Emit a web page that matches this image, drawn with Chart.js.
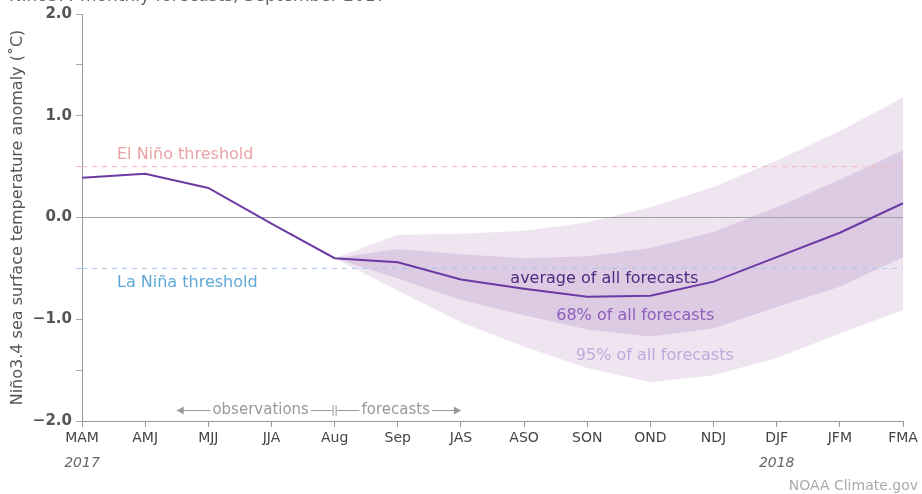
<!DOCTYPE html>
<html>
<head>
<meta charset="utf-8">
<title>Niño3.4 monthly forecasts</title>
<script src="https://cdn.jsdelivr.net/npm/chart.js@4/dist/chart.umd.min.js"></script>
<style>
  html, body { margin: 0; padding: 0; background: #fff; }
  #wrap { width: 922px; height: 494px; position: relative; }
</style>
</head>
<body>
<div id="wrap"><canvas id="enso-chart" width="922" height="494"></canvas></div>
<script>
'use strict';

// Season labels along the bottom
let seasons = ['MAM', 'AMJ', 'MJJ', 'JJA', 'Aug', 'Sep', 'JAS', 'ASO', 'SON', 'OND', 'NDJ', 'DJF', 'JFM', 'FMA'];

// Observed values up to Aug, then the mean of all forecasts
let averageAnomaly = [0.39, 0.43, 0.29, -0.06, -0.40, -0.44, -0.61, -0.70, -0.78, -0.77, -0.63, -0.39, -0.15, 0.14];

// Spread of the forecasts (starts at Aug)
let upper68 = [null, null, null, null, -0.40, -0.31, -0.36, -0.40, -0.38, -0.30, -0.14, 0.10, 0.37, 0.66];
let lower68 = [null, null, null, null, -0.40, -0.60, -0.81, -0.96, -1.10, -1.17, -1.09, -0.88, -0.68, -0.39];
let upper95 = [null, null, null, null, -0.40, -0.17, -0.16, -0.13, -0.05, 0.10, 0.30, 0.56, 0.85, 1.18];
let lower95 = [null, null, null, null, -0.40, -0.72, -1.03, -1.27, -1.48, -1.62, -1.55, -1.38, -1.14, -0.91];

// Thresholds and y axis
let elNinoThreshold = 0.5;
let laNinaThreshold = -0.5;
let yMin = -2;
let yMax = 2;

// Year marks under the season labels
let yearLabels = [{ index: 0, text: '2017' }, { index: 11, text: '2018' }];

const FONT = '"DejaVu Sans", sans-serif';
const LINE_PURPLE = '#6b3aa3';

function flat(value) {
  return seasons.map(function () { return value; });
}

// Text, arrows and year marks drawn on top of the chart
const notesPlugin = {
  id: 'notes',
  afterDraw(chart) {
    const ctx = chart.ctx;
    const x = chart.scales.x;
    const y = chart.scales.y;
    const xAt = function (i) {
      return x.left + (x.right - x.left) * i / (seasons.length - 1);
    };
    ctx.save();

    // chart title, mostly cut off at the top
    ctx.font = '17px ' + FONT;
    ctx.fillStyle = '#666';
    ctx.textAlign = 'left';
    ctx.textBaseline = 'alphabetic';
    ctx.fillText('Niño3.4 monthly forecasts, September 2017', 9, 1);

    // threshold labels
    ctx.font = '16px ' + FONT;
    ctx.fillStyle = '#e9a2a4';
    ctx.textBaseline = 'middle';
    ctx.fillText('El Niño threshold', 117, y.getPixelForValue(elNinoThreshold) - 12);
    ctx.fillStyle = '#5ea8d8';
    ctx.fillText('La Niña threshold', 117, y.getPixelForValue(laNinaThreshold) + 14);

    // band labels
    ctx.textAlign = 'center';
    ctx.fillStyle = '#4e2a80';
    ctx.fillText('average of all forecasts', xAt(8.27), y.getPixelForValue(-0.6));
    ctx.fillStyle = '#8e5fbb';
    ctx.fillText('68% of all forecasts', xAt(8.76), y.getPixelForValue(-0.97));
    ctx.fillStyle = '#c2a9dc';
    ctx.fillText('95% of all forecasts', xAt(9.07), y.getPixelForValue(-1.36));

    // year marks
    ctx.font = 'italic 14px ' + FONT;
    ctx.fillStyle = '#666';
    yearLabels.forEach(function (yl) {
      ctx.fillText(yl.text, xAt(yl.index), 463);
    });

    // observations | forecasts arrow
    const ay = y.bottom - 11;
    const split = xAt(4);
    const left = xAt(1.5);
    const right = xAt(6);
    ctx.font = '15px ' + FONT;
    ctx.fillStyle = '#999';
    ctx.strokeStyle = '#999';
    ctx.lineWidth = 1;
    const obsW = ctx.measureText('observations').width;
    const fcW = ctx.measureText('forecasts').width;
    const obsX = (left + split) / 2 + 5;
    const fcX = (split + right) / 2 - 2;
    ctx.fillText('observations', obsX, ay);
    ctx.fillText('forecasts', fcX, ay);
    ctx.beginPath();
    ctx.moveTo(left, ay + 0.5); ctx.lineTo(obsX - obsW / 2 - 2, ay + 0.5);
    ctx.moveTo(obsX + obsW / 2 + 2, ay + 0.5); ctx.lineTo(split - 2, ay + 0.5);
    ctx.moveTo(split + 2, ay + 0.5); ctx.lineTo(fcX - fcW / 2 - 2, ay + 0.5);
    ctx.moveTo(fcX + fcW / 2 + 2, ay + 0.5); ctx.lineTo(right, ay + 0.5);
    ctx.moveTo(split - 1.5, ay - 5); ctx.lineTo(split - 1.5, ay + 6);
    ctx.moveTo(split + 1.5, ay - 5); ctx.lineTo(split + 1.5, ay + 6);
    ctx.stroke();
    // arrow heads
    ctx.beginPath();
    ctx.moveTo(left, ay + 0.5); ctx.lineTo(left + 7, ay - 3.5); ctx.lineTo(left + 7, ay + 4.5); ctx.closePath();
    ctx.moveTo(right, ay + 0.5); ctx.lineTo(right - 7, ay - 3.5); ctx.lineTo(right - 7, ay + 4.5); ctx.closePath();
    ctx.fill();

    // credit
    ctx.font = '14px ' + FONT;
    ctx.fillStyle = '#aaa';
    ctx.textAlign = 'right';
    ctx.fillText('NOAA Climate.gov', 918, 486);
    ctx.restore();
  }
};

let ctx = document.getElementById('enso-chart');

let chartObject = {
  type: 'line',
  data: {
    labels: seasons,
    datasets: [
      {
        label: 'average',
        data: averageAnomaly,
        borderColor: LINE_PURPLE,
        borderWidth: 2,
        pointRadius: 0,
        fill: false,
        order: 0
      },
      {
        label: '68 upper',
        data: upper68,
        borderWidth: 0,
        pointRadius: 0,
        fill: false,
        order: 2
      },
      {
        label: '68 lower',
        data: lower68,
        borderWidth: 0,
        pointRadius: 0,
        backgroundColor: '#ddcbe4',
        fill: '-1',
        order: 2
      },
      {
        label: '95 upper',
        data: upper95,
        borderWidth: 0,
        pointRadius: 0,
        fill: false,
        order: 3
      },
      {
        label: '95 lower',
        data: lower95,
        borderWidth: 0,
        pointRadius: 0,
        backgroundColor: '#efe5f1',
        fill: '-1',
        order: 3
      },
      {
        label: 'El Niño',
        data: flat(elNinoThreshold),
        borderColor: '#f4b9ba',
        borderWidth: 1,
        borderDash: [5, 5],
        pointRadius: 0,
        fill: false,
        order: 1
      },
      {
        label: 'La Niña',
        data: flat(laNinaThreshold),
        borderColor: '#a9c6ee',
        borderWidth: 1,
        borderDash: [5, 5],
        pointRadius: 0,
        fill: false,
        order: 1
      },
      {
        label: 'zero',
        data: flat(0),
        borderColor: '#a0a0a0',
        borderWidth: 1,
        pointRadius: 0,
        fill: false,
        order: 1
      }
    ]
  },
  options: {
    responsive: false,
    maintainAspectRatio: false,
    animation: false,
    layout: { padding: { top: 14, right: 19, bottom: 0, left: 0 } },
    plugins: {
      legend: { display: false },
      tooltip: { enabled: false }
    },
    scales: {
      x: {
        offset: false,
        grid: { drawOnChartArea: false, tickLength: 6, color: '#999' },
        border: { color: '#999' },
        ticks: {
          color: '#444',
          font: { family: FONT, size: 14 },
          padding: 3,
          maxRotation: 0,
          autoSkip: false
        },
        afterFit(scale) { scale.height = 73; }
      },
      y: {
        min: yMin,
        max: yMax,
        grid: {
          drawOnChartArea: false,
          tickLength: 6,
          color: function (c) {
            if (c.tick && c.tick.value === elNinoThreshold) return '#f4b9ba';
            if (c.tick && c.tick.value === laNinaThreshold) return '#a9c6ee';
            return '#aaa';
          }
        },
        border: { color: '#999' },
        ticks: {
          stepSize: 0.5,
          color: '#555',
          font: { family: FONT, size: 15, weight: 'bold' },
          padding: 4,
          callback: function (value) {
            if (value % 1 !== 0) return '';
            return (value < 0 ? '\u2212' : '') + Math.abs(value).toFixed(1);
          }
        },
        title: {
          display: true,
          text: 'Niño3.4 sea surface temperature anomaly (˚C)',
          color: '#555',
          font: { family: FONT, size: 16 },
          padding: { top: 8, bottom: 0 }
        },
        afterFit(scale) { scale.width = 82; }
      }
    }
  },
  plugins: [notesPlugin]
};

const ensoChart = new Chart(ctx, chartObject);
</script>
</body>
</html>
